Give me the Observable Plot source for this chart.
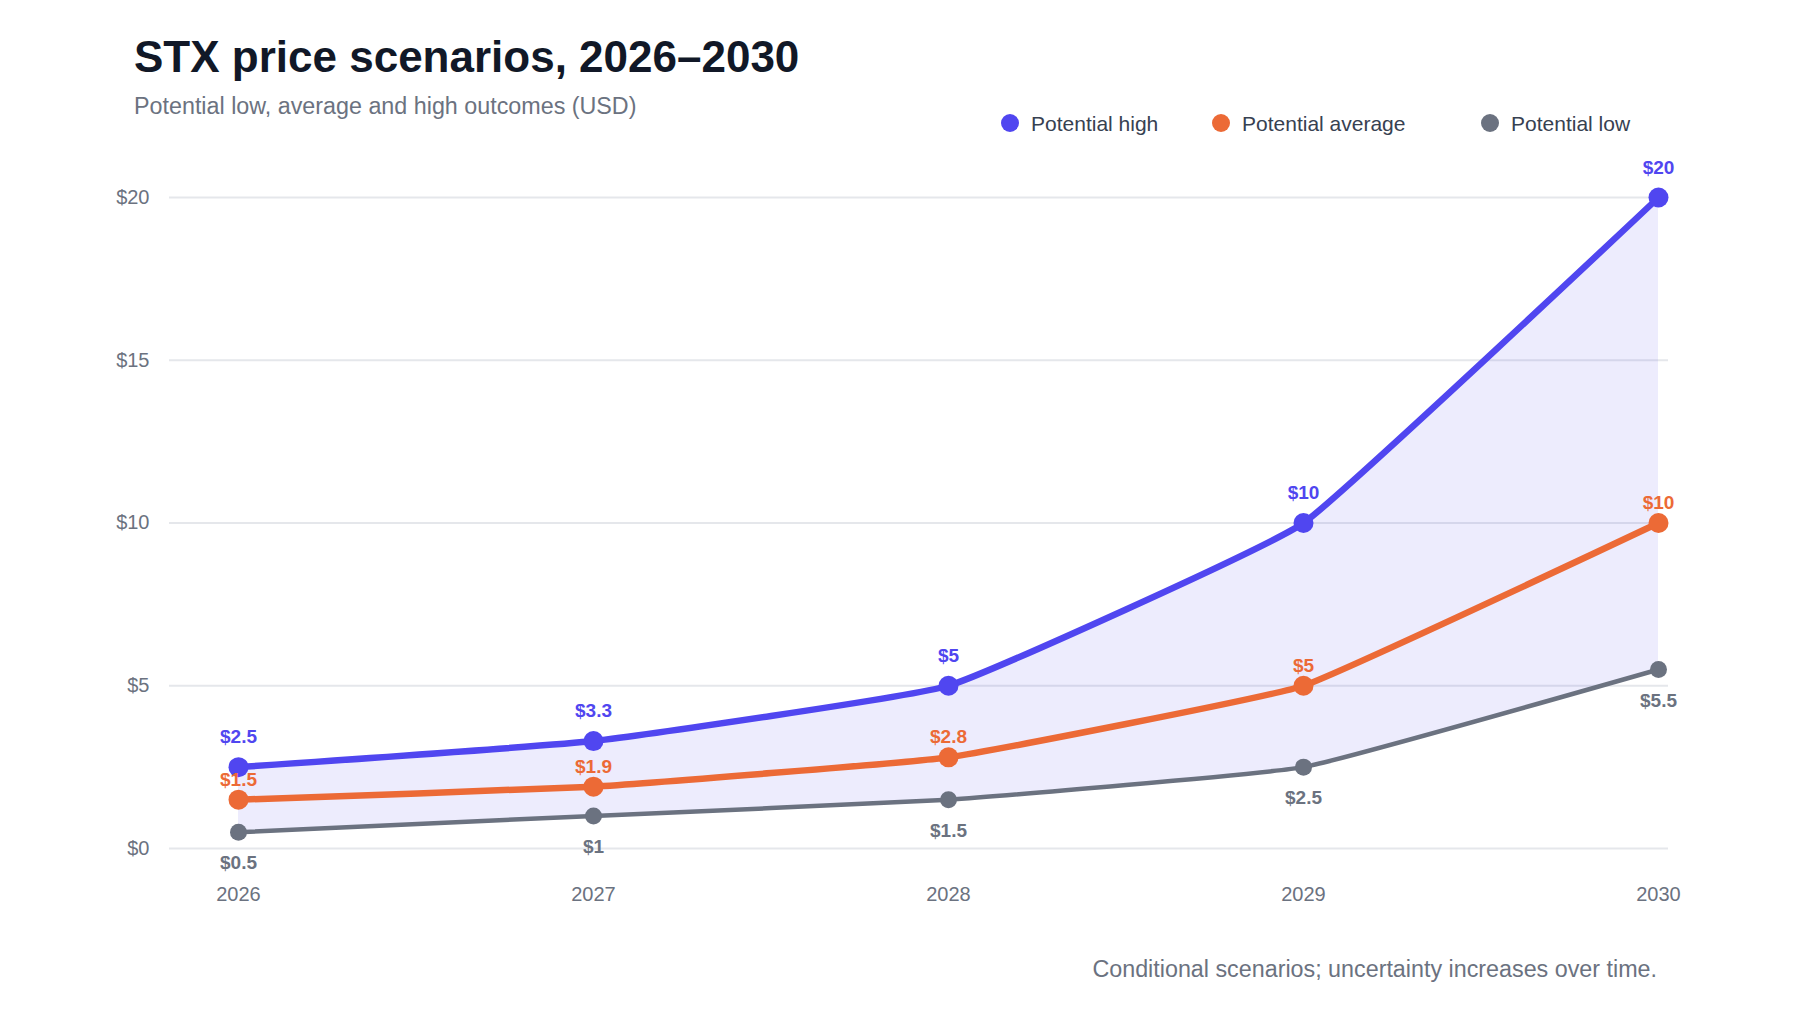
<!DOCTYPE html>
<html>
<head>
<meta charset="utf-8">
<script src="https://cdn.jsdelivr.net/npm/d3@7"></script>
<script src="https://cdn.jsdelivr.net/npm/@observablehq/plot@0.6"></script>
<style>
  html, body { margin: 0; padding: 0; background: #ffffff; }
  body { width: 1804px; height: 1016px; position: relative; overflow: hidden;
         font-family: "Liberation Sans", Arial, Helvetica, sans-serif; }
  .abs { position: absolute; line-height: 1; white-space: nowrap; }
  #title { left: 134px; top: 35px; font-size: 44px; font-weight: 700; color: #111827; }
  #subtitle { left: 134px; top: 95px; font-size: 23.3px; color: #6b7280; }
  .leg { position: absolute; top: 111px; height: 24px; display: flex; align-items: center;
         font-size: 21px; color: #374151; line-height: 1; white-space: nowrap; }
  .leg .sw { width: 18px; height: 18px; border-radius: 50%; margin-right: 12px; }
  #chart { position: absolute; left: 0; top: 140px; }
  #caption { right: 147px; top: 958px; font-size: 23.3px; color: #6b7280; }
</style>
</head>
<body>
<div id="title" class="abs">STX price scenarios, 2026–2030</div>
<div id="subtitle" class="abs">Potential low, average and high outcomes (USD)</div>
<div id="legend"></div>
<div id="chart"></div>
<div id="caption" class="abs">Conditional scenarios; uncertainty increases over time.</div>
<script>
const years = [2026, 2027, 2028, 2029, 2030];
const high = [2.5, 3.3, 5, 10, 20];
const average = [1.5, 1.9, 2.8, 5, 10];
const low = [0.5, 1, 1.5, 2.5, 5.5];
const seriesNames = ["Potential high", "Potential average", "Potential low"];
const seriesColors = ["#5046f0", "#ec6a36", "#6b7280"];
const yTicks = [0, 5, 10, 15, 20];

const legendX = [1001, 1212, 1481];
const legend = document.getElementById("legend");
seriesNames.forEach((name, i) => {
  const d = document.createElement("div");
  d.className = "leg";
  d.style.left = legendX[i] + "px";
  d.innerHTML = `<span class="sw" style="background:${seriesColors[i]}"></span><span>${name}</span>`;
  legend.appendChild(d);
});

const rows = years.map((year, i) => ({year, high: high[i], average: average[i], low: low[i]}));
const long = [];
[high, average, low].forEach((vals, s) => {
  years.forEach((year, i) => long.push({year, value: vals[i], series: seriesNames[s]}));
});
const bySeries = name => long.filter(d => d.series === name);
const fmt = v => "$" + d3.format("~g")(v);

const W = 1804, H = 780;
const stroke = {"Potential high": 6.5, "Potential average": 6.5, "Potential low": 4.5};
const radius = {"Potential high": 10, "Potential average": 10, "Potential low": 8.5};
const labelDy = {"Potential high": -30, "Potential average": -20, "Potential low": 31};
const curve = "cardinal";
const tension = 0.7;

const marks = [
  Plot.ruleY(yTicks, {stroke: "#e5e7eb", strokeWidth: 2}),
  Plot.areaY(rows, {x: "year", y1: "low", y2: "high", fill: seriesColors[0], fillOpacity: 0.1, curve, tension})
];
seriesNames.slice().reverse().forEach(name => {
  const c = seriesColors[seriesNames.indexOf(name)];
  marks.push(Plot.lineY(bySeries(name), {x: "year", y: "value", stroke: c, strokeWidth: stroke[name], curve, tension, strokeLinecap: "round", strokeLinejoin: "round"}));
});
seriesNames.slice().reverse().forEach(name => {
  const c = seriesColors[seriesNames.indexOf(name)];
  marks.push(Plot.dot(bySeries(name), {x: "year", y: "value", r: radius[name], fill: c, stroke: "none"}));
});
seriesNames.forEach(name => {
  const c = seriesColors[seriesNames.indexOf(name)];
  marks.push(Plot.text(bySeries(name), {x: "year", y: "value", text: d => fmt(d.value), dy: labelDy[name], fill: c, fontWeight: 700, fontSize: 19}));
});

const chart = Plot.plot({
  width: W,
  height: H,
  marginLeft: 169,
  marginRight: 136,
  marginTop: 20,
  marginBottom: 72,
  style: {fontFamily: '"Liberation Sans", Arial, Helvetica, sans-serif', background: "transparent", overflow: "visible"},
  x: {domain: [2026, 2030], range: [238, 1658], label: null},
  y: {domain: [0, 20], range: [708, 57], label: null},
  marks: [
    ...marks,
    Plot.axisX({ticks: years, tickFormat: d => String(d), tickSize: 0, tickPadding: 38, fontSize: 20, color: "#6b7280", label: null}),
    Plot.axisY({ticks: yTicks, tickFormat: d => "$" + d, tickSize: 0, tickPadding: 20, fontSize: 20, color: "#6b7280", label: null})
  ]
});
document.getElementById("chart").appendChild(chart);
</script>
</body>
</html>
